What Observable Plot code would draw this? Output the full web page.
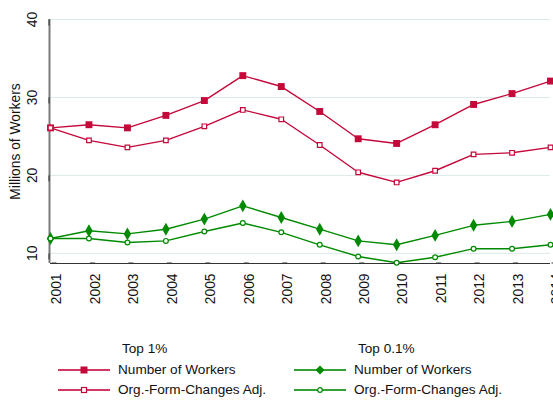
<!DOCTYPE html>
<html>
<head>
<meta charset="utf-8">
<script src="https://cdn.jsdelivr.net/npm/d3@7"></script>
<script src="https://cdn.jsdelivr.net/npm/@observablehq/plot@0.6"></script>
<style>
  body { margin: 0; background: #fff; }
  #wrap { position: relative; width: 553px; height: 402px; overflow: hidden; font-family: "Liberation Sans", Arial, sans-serif; font-size: 13.6px; color: #111; }
  .lg { position: absolute; white-space: nowrap; line-height: 1; }
  .sym { position: absolute; }
</style>
</head>
<body>
<div id="wrap"></div>
<script>
const years = [2001, 2002, 2003, 2004, 2005, 2006, 2007, 2008, 2009, 2010, 2011, 2012, 2013, 2014];
const top1Workers = [26.1, 26.5, 26.1, 27.7, 29.6, 32.8, 31.4, 28.2, 24.7, 24.1, 26.5, 29.1, 30.5, 32.1];
const top1Adj     = [26.1, 24.5, 23.6, 24.5, 26.3, 28.4, 27.2, 23.9, 20.4, 19.1, 20.6, 22.7, 22.9, 23.6];
const top01Workers = [11.9, 12.9, 12.5, 13.1, 14.4, 16.1, 14.6, 13.1, 11.6, 11.1, 12.3, 13.6, 14.1, 15.0];
const top01Adj     = [11.9, 11.9, 11.4, 11.6, 12.8, 13.9, 12.7, 11.1, 9.6, 8.8, 9.5, 10.6, 10.6, 11.1];
const yTicks = [10, 20, 30, 40];
const seriesNames = ["Number of Workers", "Org.-Form-Changes Adj."];
const groupNames = ["Top 1%", "Top 0.1%"];

const red = "#c4083a";
const green = "#008a00";

const rows = (vals) => years.map((x, i) => ({x, y: vals[i]}));
const d1w = rows(top1Workers), d1a = rows(top1Adj), d2w = rows(top01Workers), d2a = rows(top01Adj);

const chart = Plot.plot({
  width: 553,
  height: 320,
  marginTop: 19,
  marginBottom: 57,
  marginLeft: 50,
  marginRight: 3,
  style: {fontFamily: "Liberation Sans, Arial, sans-serif", fontSize: "13.8px", color: "#111", background: "white"},
  x: {domain: [2001, 2014]},
  y: {domain: [8.7, 40]},
  marks: [
    Plot.gridY(yTicks, {stroke: "#dce9ea", strokeOpacity: 1, strokeWidth: 1}),
    Plot.ruleY([8.7], {stroke: "#333", strokeWidth: 1.2}),
    Plot.ruleX([2001], {stroke: "#7a7a7a", strokeWidth: 2, dx: -1}),
    Plot.axisY(yTicks, {rotate: -90, textAnchor: "middle", tickSize: 6, tickPadding: 11, stroke: "#333", dx: -1,
      label: "Millions of Workers", labelAnchor: "center", labelOffset: 40, labelArrow: "none"}),
    Plot.axisX(years, {tickFormat: "d", rotate: -90, textAnchor: "end", tickSize: 5, tickPadding: 5, stroke: "#333", dx: 1, label: null}),
    Plot.line(d1w, {x: "x", y: "y", stroke: red, strokeWidth: 1.4}),
    Plot.line(d1a, {x: "x", y: "y", stroke: red, strokeWidth: 1.4}),
    Plot.line(d2w, {x: "x", y: "y", stroke: green, strokeWidth: 1.4}),
    Plot.line(d2a, {x: "x", y: "y", stroke: green, strokeWidth: 1.4}),
    Plot.dot(d1w, {x: "x", y: "y", symbol: "square", r: 3.9, fill: red, stroke: "none"}),
    Plot.dot(d1a, {x: "x", y: "y", symbol: "square", r: 2.6, fill: "white", stroke: red, strokeWidth: 1.2}),
    Plot.dot(d2w, {x: "x", y: "y", symbol: "diamond", r: 3.9, fill: green, stroke: "none"}),
    Plot.dot(d2a, {x: "x", y: "y", symbol: "circle", r: 2.4, fill: "white", stroke: green, strokeWidth: 1.2})
  ]
});
const wrap = document.getElementById("wrap");
chart.style.position = "absolute";
chart.style.left = "0px";
chart.style.top = "0px";
wrap.appendChild(chart);

// Legend
function addText(txt, left, top) {
  const d = document.createElement("div");
  d.className = "lg";
  d.textContent = txt;
  d.style.left = left + "px";
  d.style.top = top + "px";
  wrap.appendChild(d);
}
function addSym(left, cy, color, kind) {
  const ns = "http://www.w3.org/2000/svg";
  const s = document.createElementNS(ns, "svg");
  s.setAttribute("width", 54); s.setAttribute("height", 12);
  s.setAttribute("class", "sym");
  s.style.left = left + "px"; s.style.top = (cy - 6) + "px";
  const l = document.createElementNS(ns, "line");
  l.setAttribute("x1", 0); l.setAttribute("x2", 52); l.setAttribute("y1", 6); l.setAttribute("y2", 6);
  l.setAttribute("stroke", color); l.setAttribute("stroke-width", 2); l.setAttribute("stroke-opacity", 0.8);
  s.appendChild(l);
  let m;
  if (kind === "fsq") { m = document.createElementNS(ns, "rect"); m.setAttribute("x", 22.5); m.setAttribute("y", 2.5); m.setAttribute("width", 7); m.setAttribute("height", 7); m.setAttribute("fill", color); }
  if (kind === "hsq") { m = document.createElementNS(ns, "rect"); m.setAttribute("x", 23.5); m.setAttribute("y", 3.5); m.setAttribute("width", 5); m.setAttribute("height", 5); m.setAttribute("fill", "white"); m.setAttribute("stroke", color); m.setAttribute("stroke-width", 1.2); }
  if (kind === "dia") { m = document.createElementNS(ns, "path"); m.setAttribute("d", "M26,1.5L30.5,6L26,10.5L21.5,6Z"); m.setAttribute("fill", color); }
  if (kind === "cir") { m = document.createElementNS(ns, "circle"); m.setAttribute("cx", 26); m.setAttribute("cy", 6); m.setAttribute("r", 2.3); m.setAttribute("fill", "white"); m.setAttribute("stroke", color); m.setAttribute("stroke-width", 1.2); }
  s.appendChild(m);
  wrap.appendChild(s);
}
addText(groupNames[0], 122, 342);
addText(groupNames[1], 358, 342);
addSym(58, 370, red, "fsq");
addSym(58, 390, red, "hsq");
addSym(294, 370, green, "dia");
addSym(294, 390, green, "cir");
addText(seriesNames[0], 118, 363);
addText(seriesNames[1], 118, 383);
addText(seriesNames[0], 354, 363);
addText(seriesNames[1], 354, 383);
</script>
</body>
</html>
